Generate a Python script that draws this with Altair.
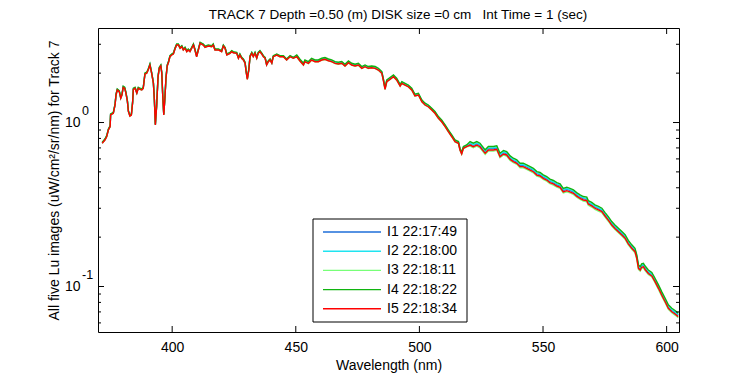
import altair as alt
import pandas as pd

FONT = "Liberation Sans"

title_text = "TRACK 7 Depth =0.50 (m) DISK size =0 cm\u00a0\u00a0\u00a0Int Time = 1 (sec)"
x_title = "Wavelength (nm)"
y_title = "All five Lu images (uW/cm\u00b2/sr/nm) for Track 7"

series_names = ["I1 22:17:49", "I2 22:18:00", "I3 22:18:11", "I4 22:18:22", "I5 22:18:34"]
series_colors = ["#1e6ed8", "#20e4f0", "#78ff78", "#10b410", "#ff0000"]

# wavelength (nm) and Lu of image I5
wavelength = [
    371.7, 372.8, 373.5, 374.2, 374.9, 375.1, 376.2, 376.9, 377.3, 377.8,
    378.6, 379.2, 379.7, 380.2, 380.8, 381.3, 381.9, 382.3, 382.9, 383.5,
    384.0, 384.3, 385.0, 385.7, 386.3, 387.0, 387.7, 388.3, 389.0, 389.7,
    390.3, 391.0, 391.7, 392.4, 392.8, 393.2, 393.7, 394.3, 394.8, 395.4,
    395.8, 396.2, 396.6, 397.1, 397.5, 398.0, 398.6, 399.1, 399.8, 400.5,
    401.1, 401.8, 402.5, 403.2, 403.9, 404.5, 405.2, 405.9, 406.5, 407.2,
    407.9, 408.6, 409.2, 409.9, 410.6, 411.3, 412.6, 413.3, 414.6, 416.0,
    416.6, 417.3, 418.7, 420.0, 420.7, 421.4, 422.1, 423.4, 424.1, 424.7,
    426.1, 426.8, 427.4, 428.1, 428.8, 429.5, 429.9, 430.4, 431.0, 431.5,
    432.2, 432.8, 433.5, 434.2, 434.8, 435.5, 436.2, 436.9, 437.6, 438.2,
    438.9, 439.6, 440.3, 440.9, 442.3, 443.6, 445.0, 446.3, 447.0, 447.7,
    449.0, 450.4, 451.7, 453.1, 453.7, 455.1, 456.4, 457.8, 459.1, 460.5,
    461.8, 463.2, 464.5, 465.9, 467.2, 468.6, 469.9, 471.3, 472.6, 474.0,
    475.3, 476.7, 478.0, 479.3, 480.7, 482.1, 483.4, 484.8, 485.4, 486.1,
    486.8, 488.1, 489.5, 490.8, 492.2, 492.9, 494.2, 495.5, 496.9, 498.2,
    499.6, 501.0, 502.3, 503.6, 505.0, 506.3, 507.7, 509.0, 510.4, 511.7,
    513.1, 514.4, 515.8, 516.4, 517.1, 517.8, 519.1, 520.5, 521.8, 523.2,
    524.5, 526.6, 527.9, 529.9, 531.3, 532.6, 534.0, 535.3, 536.7, 538.0,
    539.4, 540.7, 542.0, 543.4, 544.8, 546.1, 547.5, 548.8, 550.1, 551.5,
    552.8, 554.2, 555.6, 556.9, 558.2, 559.6, 560.9, 562.3, 563.6, 565.0,
    566.3, 567.7, 568.3, 569.7, 571.0, 572.4, 573.8, 575.1, 576.4, 577.8,
    579.1, 580.5, 581.9, 583.2, 584.5, 585.9, 587.2, 587.9, 588.6, 589.3,
    589.9, 590.6, 591.3, 592.6, 594.0, 595.3, 596.7, 598.0, 599.4, 600.7,
    602.1, 603.4, 604.7,
]
lu_i5 = [
    0.747, 0.782, 0.819, 0.900, 0.943, 1.111, 1.138, 1.279, 1.472, 1.578,
    1.541, 1.405, 1.472, 1.639, 1.616, 1.507, 1.339, 1.164, 1.095, 1.111,
    1.320, 1.594, 1.616, 1.507, 1.616, 1.594, 1.578, 1.616, 1.976, 1.995,
    2.090, 2.242, 1.995, 1.734, 1.372, 0.966, 1.248, 1.902, 2.141, 2.211,
    1.995, 1.437, 1.111, 1.437, 1.860, 2.211, 2.349, 2.519, 2.580, 2.617,
    2.795, 2.969, 2.969, 2.835, 2.900, 2.768, 2.835, 2.703, 2.768, 2.703,
    2.835, 2.969, 2.768, 2.519, 2.768, 3.041, 2.969, 2.875, 2.928, 2.900,
    2.969, 2.768, 2.768, 2.703, 2.928, 2.835, 2.580, 2.642, 2.703, 2.664,
    2.642, 2.463, 2.580, 2.463, 2.405, 2.296, 2.041, 1.834, 2.090, 2.519,
    2.642, 2.519, 2.642, 2.463, 2.642, 2.703, 2.617, 2.519, 2.463, 2.242,
    2.349, 2.405, 2.296, 2.519, 2.580, 2.519, 2.519, 2.405, 2.463, 2.519,
    2.463, 2.519, 2.371, 2.242, 2.349, 2.296, 2.405, 2.349, 2.349, 2.405,
    2.429, 2.381, 2.349, 2.296, 2.274, 2.296, 2.211, 2.315, 2.242, 2.211,
    2.242, 2.141, 2.189, 2.141, 2.159, 2.141, 2.090, 1.995, 1.816, 1.594,
    1.773, 1.834, 1.902, 1.816, 1.669, 1.734, 1.693, 1.653, 1.578, 1.451,
    1.472, 1.339, 1.279, 1.248, 1.192, 1.138, 1.061, 1.011, 0.943, 0.879,
    0.819, 0.764, 0.747, 0.680, 0.643, 0.696, 0.712, 0.729, 0.712, 0.729,
    0.712, 0.649, 0.680, 0.680, 0.687, 0.619, 0.643, 0.634, 0.596, 0.577,
    0.564, 0.538, 0.538, 0.526, 0.513, 0.501, 0.478, 0.472, 0.457, 0.446,
    0.430, 0.422, 0.410, 0.403, 0.378, 0.384, 0.378, 0.370, 0.356, 0.345,
    0.337, 0.334, 0.318, 0.310, 0.300, 0.293, 0.286, 0.269, 0.254, 0.237,
    0.226, 0.216, 0.206, 0.197, 0.182, 0.171, 0.163, 0.149, 0.129, 0.126,
    0.131, 0.132, 0.127, 0.120, 0.116, 0.107, 0.0975, 0.0887, 0.0808, 0.0736,
    0.0702, 0.0680, 0.0655,
]

# relative level of each image versus I5, read per wavelength band (<450, 450-520, >520 nm)
band_edges = [450, 520]
gain_I1 = [1.005, 1.010, 1.020]
gain_I2 = [1.008, 1.016, 1.030]
gain_I3 = [1.000, 0.997, 0.985]
gain_I4 = [1.015, 1.025, 1.050]
gain_I5 = [1.000, 1.000, 1.000]
gains = [gain_I1, gain_I2, gain_I3, gain_I4, gain_I5]

x_tick_values = [400, 450, 500, 550, 600]
y_major_ticks = [0.1, 1]
y_minor_ticks = [0.06, 0.07, 0.08, 0.09, 0.2, 0.3, 0.4, 0.5, 0.6, 0.7, 0.8, 0.9, 2, 3]
exponent_labels = ["-1", "0"]

rows = []
for name, g in zip(series_names, gains):
    for w, v in zip(wavelength, lu_i5):
        band = 0 if w < band_edges[0] else (1 if w < band_edges[1] else 2)
        rows.append({"wavelength": w, "lu": v * g[band], "series": name})
df = pd.DataFrame(rows)

W, H = 581, 304
x_scale = alt.Scale(domain=[370, 605], nice=False, zero=False)
y_scale = alt.Scale(type="log", domain=[0.0528, 3.77], nice=False)
color_scale = alt.Scale(domain=series_names, range=series_colors)

x_axis = alt.Axis(
    values=x_tick_values, ticks=False, tickSize=0, domain=False, grid=False,
    labelFontSize=14, labelPadding=8, labelFlush=False, format="d",
    title=x_title, titleFontSize=14, titleY=37, titleBaseline="alphabetic",
)

lines = alt.Chart(df).mark_line(strokeWidth=1.4, clip=True).encode(
    x=alt.X("wavelength:Q", scale=x_scale, axis=x_axis),
    y=alt.Y("lu:Q", scale=y_scale, axis=alt.Axis(
        values=y_major_ticks, labelExpr="'10'", ticks=False, tickSize=0, domain=False,
        grid=False, labelPadding=18, labelFontSize=14, labelFlush=False,
        labelBaseline="middle",
        title=y_title, titleFontSize=14, titleX=-44, titleY=H / 2, titleAngle=270,
        titleAlign="center", titleBaseline="middle")),
    color=alt.Color("series:N", scale=color_scale, legend=None),
)

xt = pd.DataFrame({"wavelength": x_tick_values})
x_ticks_bottom = alt.Chart(xt).mark_rule(color="black").encode(
    x=alt.X("wavelength:Q", scale=x_scale, axis=x_axis), y=alt.value(H), y2=alt.value(H - 6))
x_ticks_top = alt.Chart(xt).mark_rule(color="black").encode(
    x=alt.X("wavelength:Q", scale=x_scale, axis=x_axis), y=alt.value(0), y2=alt.value(6))

ymaj = pd.DataFrame({"v": y_major_ticks})
ymin = pd.DataFrame({"v": y_minor_ticks})


def yticks(d, x0, x1):
    return alt.Chart(d).mark_rule(color="black").encode(
        y=alt.Y("v:Q", scale=y_scale, axis=None), x=alt.value(x0), x2=alt.value(x1))


tick_layers = [
    yticks(ymaj, 0, 6), yticks(ymaj, W, W - 6),
    yticks(ymin, 0, 3), yticks(ymin, W, W - 3),
]

exp_df = pd.DataFrame({"v": y_major_ticks, "e": exponent_labels})
exponents = alt.Chart(exp_df).mark_text(
    align="left", baseline="middle", fontSize=12.5, dy=-11.5, font=FONT, color="black"
).encode(y=alt.Y("v:Q", scale=y_scale, axis=None), x=alt.value(-16), text="e:N")

title = alt.Chart(pd.DataFrame({"t": [title_text]})).mark_text(
    align="center", baseline="alphabetic", fontSize=13.5, font=FONT, color="black"
).encode(x=alt.value(300), y=alt.value(-9.5), text="t:N")

leg_df = pd.DataFrame({"series": series_names, "idx": list(range(len(series_names)))})
leg_box = alt.Chart(pd.DataFrame({"a": [0]})).mark_rect(
    fill="white", stroke="black", strokeWidth=1
).encode(x=alt.value(215), x2=alt.value(369), y=alt.value(191), y2=alt.value(294))
leg_lines = alt.Chart(leg_df).transform_calculate(ly="204 + 19.2 * datum.idx").mark_rule(
    strokeWidth=1.4
).encode(
    x=alt.value(225), x2=alt.value(283),
    y=alt.Y("ly:Q", scale=None, axis=None),
    color=alt.Color("series:N", scale=color_scale, legend=None),
)
leg_text = alt.Chart(leg_df).transform_calculate(ly="204 + 19.2 * datum.idx").mark_text(
    align="left", baseline="middle", fontSize=14, font=FONT, color="black"
).encode(x=alt.value(289), y=alt.Y("ly:Q", scale=None, axis=None), text="series:N")

chart = alt.layer(
    lines, x_ticks_bottom, x_ticks_top, *tick_layers, exponents, title,
    leg_box, leg_lines, leg_text,
).resolve_scale(y="independent").properties(
    width=W, height=H,
    autosize=alt.AutoSizeParams(type="none"),
    padding={"left": 90, "top": 20, "right": 50, "bottom": 46},
    background="white",
).configure_view(stroke="black", strokeWidth=1).configure_axis(
    labelFont=FONT, titleFont=FONT, labelColor="black", titleColor="black",
    titleFontWeight="normal",
)

chart.save("out.html", embed_options={"renderer": "svg", "actions": False})
